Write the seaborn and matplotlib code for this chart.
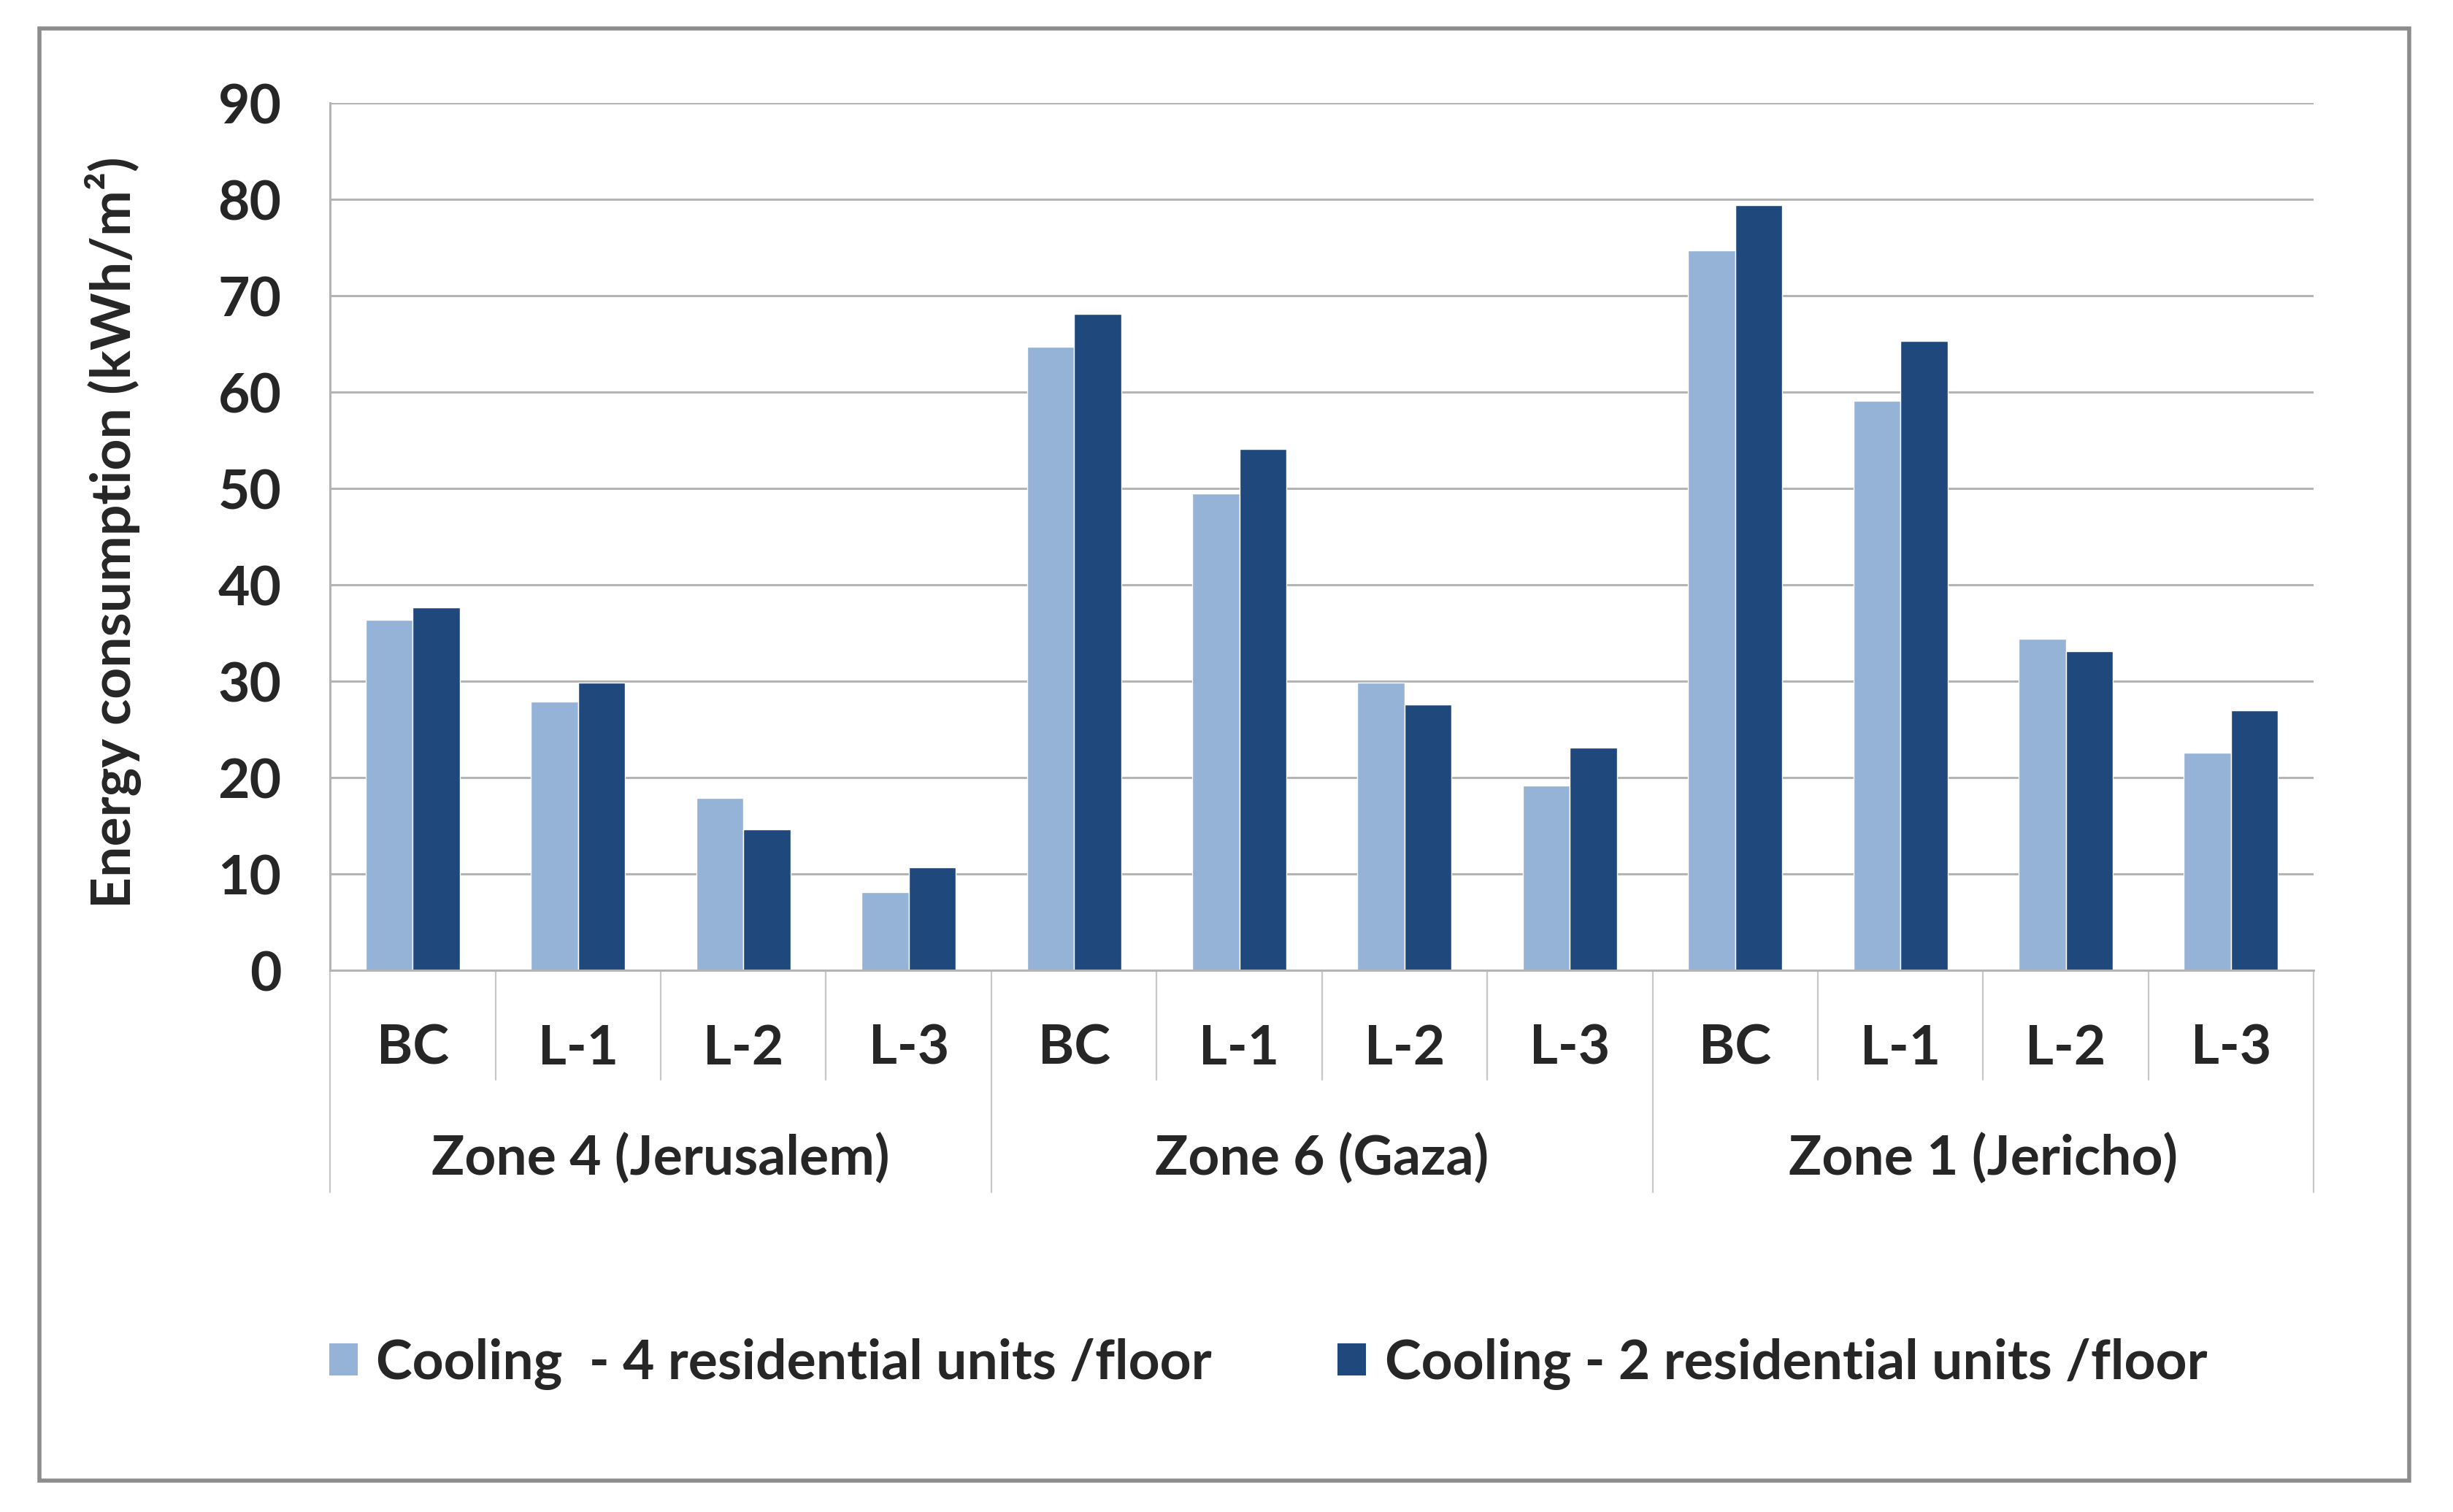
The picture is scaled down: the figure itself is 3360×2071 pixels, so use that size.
import numpy as np
import pandas as pd
import matplotlib
matplotlib.use("Agg")
import matplotlib.pyplot as plt
import matplotlib.transforms as mtransforms
from matplotlib.patches import Rectangle, Patch
import seaborn as sns

# data
zones = ["Zone 4 (Jerusalem)", "Zone 6 (Gaza)", "Zone 1 (Jericho)"]
cases = ["BC", "L-1", "L-2", "L-3"]
series_names = ["Cooling  - 4 residential units /floor",
                "Cooling - 2 residential units /floor"]
four_units = [36.4, 27.9, 17.9, 8.1,
              64.7, 49.5, 29.9, 19.2,
              74.7, 59.1, 34.4, 22.6]
two_units = [37.7, 29.9, 14.6, 10.7,
             68.1, 54.1, 27.6, 23.1,
             79.4, 65.3, 33.1, 27.0]
y_ticks = [0, 10, 20, 30, 40, 50, 60, 70, 80, 90]

light = "#95b3d7"
dark = "#1f497d"
grid_grey = "#b4b4b4"
fs = 54

sns.set_style("white")
plt.rcParams['font.family'] = ['Lato', 'DejaVu Sans']
plt.rcParams['font.weight'] = 'bold'

keys = [f"{z}|{c}" for z in zones for c in cases]
df = pd.DataFrame({
    "key": keys * 2,
    "value": four_units + two_units,
    "series": [series_names[0]] * 12 + [series_names[1]] * 12,
})

fig = plt.figure(figsize=(33.6, 20.71), dpi=100)
ax = fig.add_axes([0.1346, 0.3582, 0.8086, 0.5735])

sns.barplot(data=df, x="key", y="value", hue="series", order=keys,
            hue_order=series_names, palette=[light, dark], width=0.57,
            saturation=1, ax=ax, legend=False)

ax.set_ylim(0, 90)
ax.set_xlim(-0.5, 11.5)
ax.set_yticks(y_ticks)
ax.set_yticklabels([str(v) for v in y_ticks], fontsize=fs, fontweight='bold')
ax.yaxis.grid(True, color=grid_grey, lw=2.2)
ax.set_axisbelow(True)
for s in ["top", "right"]:
    ax.spines[s].set_visible(False)
ax.spines["left"].set_color(grid_grey)
ax.spines["left"].set_linewidth(2.2)
ax.spines["bottom"].set_color(grid_grey)
ax.spines["bottom"].set_linewidth(2.2)
ax.tick_params(axis="y", length=12, width=2.2, color=grid_grey, pad=36)
ax.tick_params(axis="x", length=0)
ax.set_xticks(range(12))
ax.set_xticklabels([])
ax.set_xlabel("")
ax.set_ylabel("Energy consumption (kWh/m²)", fontsize=54, fontweight='bold')
ax.yaxis.set_label_coords(-0.095, 0.505)

# two-level category axis
trans = mtransforms.blended_transform_factory(ax.transData, ax.transAxes)
for i, k in enumerate(keys):
    ax.text(i, -0.09, k.split("|")[1], transform=trans, ha="center",
            va="center", fontsize=fs, fontweight='bold')
for i in range(13):
    x = i - 0.5
    bottom = -0.256 if i % 4 == 0 else -0.126
    ax.plot([x, x], [0, bottom], transform=trans, color="#c8c8c8", lw=1.6,
            clip_on=False)
for j, z in enumerate(zones):
    ax.text(j * 4 + 1.5, -0.217, z, transform=trans, ha="center",
            va="center", fontsize=fs, fontweight='bold')

handles = [Patch(facecolor=light, edgecolor="none"),
           Patch(facecolor=dark, edgecolor="none")]
fig.legend(handles, series_names, loc="center", bbox_to_anchor=(0.517, 0.098),
           ncol=2, frameon=False, handlelength=0.52, handleheight=0.52,
           handletextpad=0.34, columnspacing=2.3,
           prop={'weight': 'bold', 'size': fs})

# outer frame
fig.patches.append(Rectangle((0.016, 0.021), 0.966, 0.96, transform=fig.transFigure,
                             fill=False, edgecolor="#8c8c8c", lw=4))

fig.savefig("out.png", dpi=100, facecolor="white")
